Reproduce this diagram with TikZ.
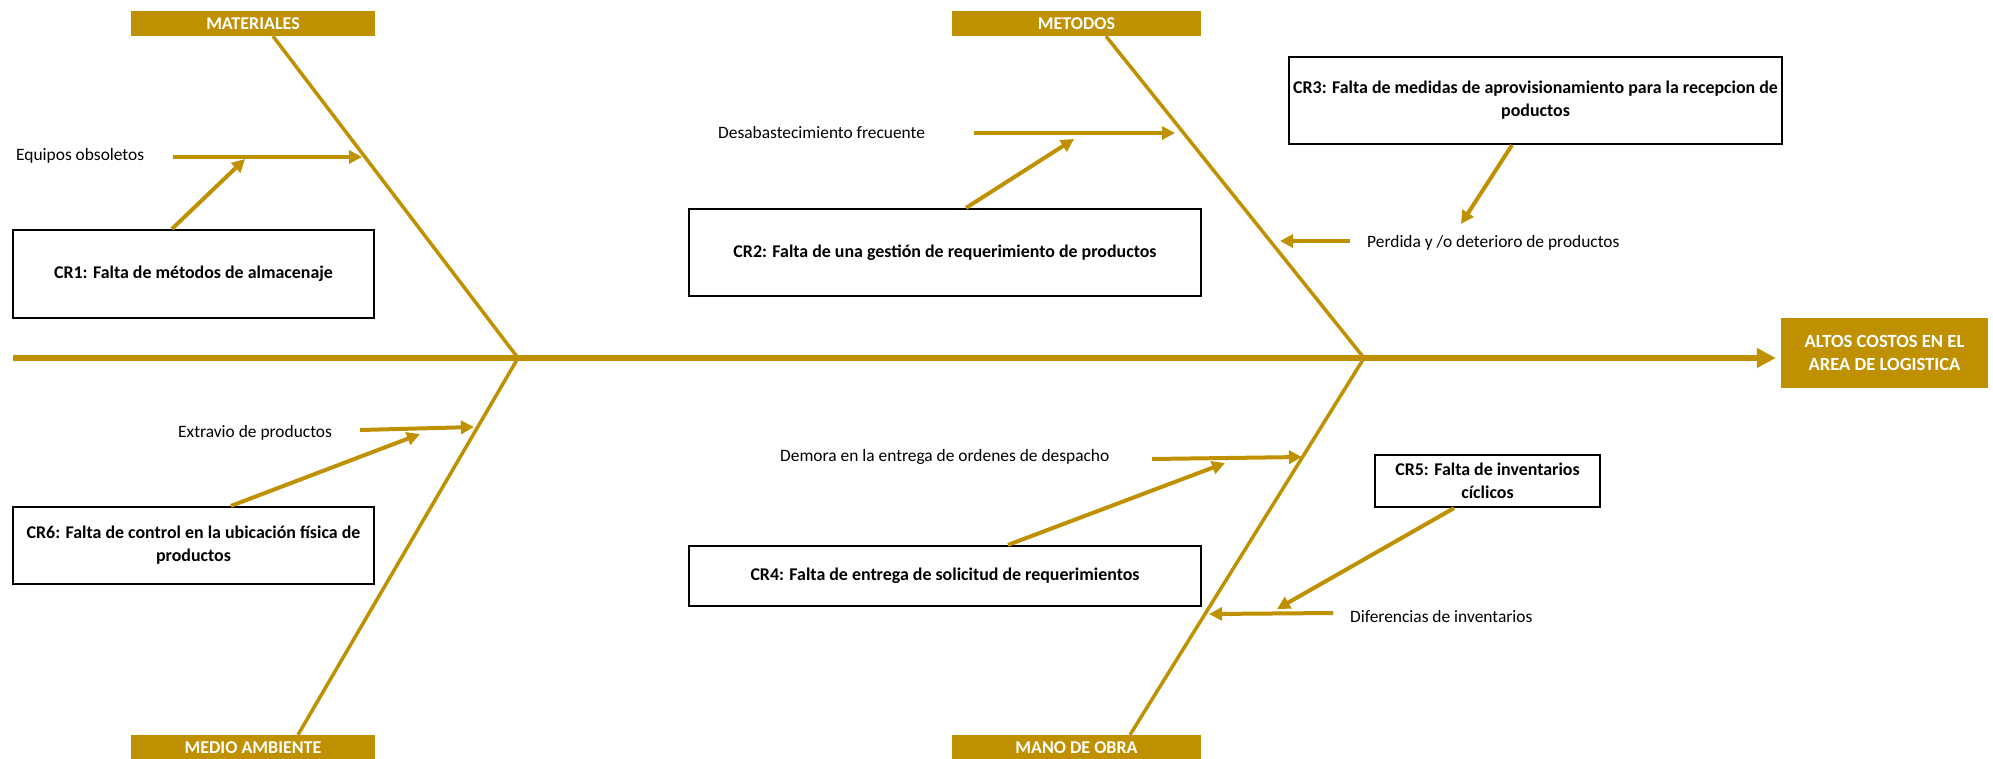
\documentclass[tikz,border=0pt]{standalone}
\usepackage{fontspec}
\setmainfont{Carlito}
\usetikzlibrary{arrows.meta,calc}
\definecolor{gold}{RGB}{191,144,0}
\begin{document}
\begin{tikzpicture}[x=1pt,y=-1pt,
  cat/.style={fill=gold, text=white, font=\fontsize{18}{20}\selectfont\bfseries, minimum width=244pt, minimum height=25pt, inner sep=0pt},
  causebox/.style={draw=black, line width=2.2pt, fill=white, font=\fontsize{17.9}{23}\selectfont\bfseries, align=center, inner sep=0pt},
  lbl/.style={font=\fontsize{17.4}{20}\selectfont, anchor=west, inner sep=0pt},
  bone/.style={draw=gold, line width=3.5pt},
  spine/.style={draw=gold, line width=6pt, -{Triangle[length=19pt,width=19pt]}},
  arr/.style={draw=gold, line width=4pt, -{Triangle[length=13pt,width=13pt]}},
]
\useasboundingbox (0,0) rectangle (1993,758);

% category boxes
\node[cat] (mat) at (253,23.5) {MATERIALES};
\node[cat, minimum width=249pt] (met) at (1076.5,23.5) {METODOS};
\node[cat] (med) at (253,747.5) {MEDIO AMBIENTE};
\node[cat, minimum width=249pt] (mano) at (1076.5,747.5) {MANO DE OBRA};
\node[fill=gold, text=white, font=\fontsize{18.6}{23}\selectfont\bfseries, minimum width=207pt, minimum height=70pt, inner sep=0pt, align=center] (head) at (1884.5,353) {ALTOS COSTOS EN EL\\AREA DE LOGISTICA};

% spine and bones
\coordinate (tail) at (13,358);
\coordinate (j1) at (518,358);
\coordinate (j2) at (1364,358);
\draw[spine] (tail) -- ($(head.west |- tail)+(-5,0)$);
\draw[bone] ([xshift=20pt]mat.south) -- (j1);
\draw[bone] ([xshift=29.5pt]met.south) -- (j2);
\draw[bone] (j1) -- ([xshift=45pt]med.north);
\draw[bone] (j2) -- ([xshift=53.5pt]mano.north);

% cause boxes
\node[causebox, minimum width=361pt, minimum height=88pt] (cr1) at (193.5,274) {CR1: Falta de métodos de almacenaje};
\node[causebox, minimum width=512pt, minimum height=87pt] (cr2) at (945,252.5) {CR2: Falta de una gestión de requerimiento de productos};
\node[causebox, minimum width=493pt, minimum height=87pt] (cr3) at (1535.5,100.5) {CR3: Falta de medidas de aprovisionamiento para la recepcion de\\poductos};
\node[causebox, minimum width=512pt, minimum height=60pt] (cr4) at (945,576) {CR4: Falta de entrega de solicitud de requerimientos};
\node[causebox, minimum width=225pt, minimum height=52pt] (cr5) at (1487.5,481) {CR5: Falta de inventarios\\cíclicos};
\node[causebox, minimum width=361pt, minimum height=77pt] (cr6) at (193.5,545.5) {CR6: Falta de control en la ubicación física de\\productos};

% labels
\node[lbl] (equ) at (16,156) {Equipos obsoletos};
\node[lbl] (des) at (718,133) {Desabastecimiento frecuente};
\node[lbl] (per) at (1367,243) {Perdida y /o deterioro de productos};
\node[lbl] (ext) at (178,433) {Extravio de productos};
\node[lbl] (dem) at (780,457) {Demora en la entrega de ordenes de despacho};
\node[lbl] (dif) at (1350,617) {Diferencias de inventarios};

% arrows to bones
\coordinate (a1s) at (173,157);  \coordinate (a1e) at (362,157);
\draw[arr] (a1s) -- (a1e);
\coordinate (b1) at (245,159);
\draw[arr] ([xshift=-21.5pt]cr1.north) -- (b1);

\coordinate (a2s) at (974,133);  \coordinate (a2e) at (1175,133);
\draw[arr] (a2s) -- (a2e);
\coordinate (b2) at (1074,139);
\draw[arr] ([xshift=21pt]cr2.north) -- (b2);

\coordinate (a3s) at (1350,241); \coordinate (a3e) at (1280,241);
\draw[arr] (a3s) -- (a3e);
\coordinate (b3) at (1461,224);
\draw[arr] ([xshift=-23.5pt]cr3.south) -- (b3);

\coordinate (a6s) at (360,430);  \coordinate (a6e) at (474,427);
\draw[arr] (a6s) -- (a6e);
\coordinate (b6) at (420,434);
\draw[arr] ([xshift=37.5pt]cr6.north) -- (b6);

\coordinate (a4s) at (1152,459); \coordinate (a4e) at (1302,457);
\draw[arr] (a4s) -- (a4e);
\coordinate (b4) at (1225,463);
\draw[arr] ([xshift=63pt]cr4.north) -- (b4);

\coordinate (a5s) at (1333,613); \coordinate (a5e) at (1209,614);
\draw[arr] (a5s) -- (a5e);
\coordinate (b5) at (1277,609);
\draw[arr] ([xshift=-33.5pt]cr5.south) -- (b5);
\end{tikzpicture}
\end{document}
